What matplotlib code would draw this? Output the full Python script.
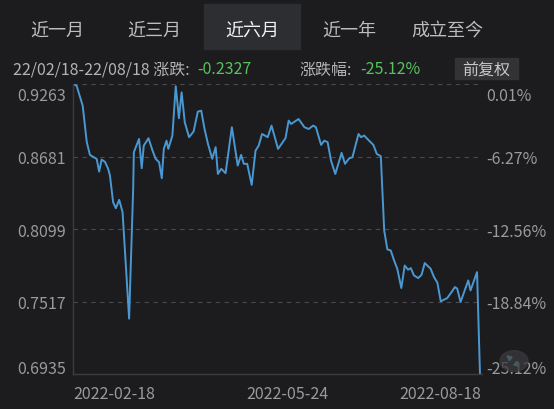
import matplotlib
matplotlib.use("Agg")
import matplotlib.pyplot as plt
import matplotlib.transforms as mtransforms
from matplotlib.patches import Rectangle, Circle

plt.rcParams['font.family'] = ['Noto Sans CJK SC', 'DejaVu Sans']

# period tabs
tabs = ['近一月', '近三月', '近六月', '近一年', '成立至今']
active_tab = 2

# summary row
period_text = '22/02/18-22/08/18 涨跌:'
change_value = '-0.2327'
pct_label = '涨跌幅:'
pct_value = '-25.12%'
adjust_label = '前复权'

# net value series (days since 2022-02-18, value)
days = [0.0, 1.6, 4.3, 6.1, 7.5, 9.7, 10.5, 11.6, 12.7, 14.2, 15.6, 16.4,
        17.1, 17.8, 19.0, 20.5, 22.0, 24.9, 26.7, 27.0, 29.3, 30.5, 31.4,
        33.5, 35.3, 36.7, 38.2, 39.4, 40.3, 41.5, 42.3, 44.1, 45.6, 47.0,
        48.2, 49.6, 51.5, 53.5, 55.4, 56.9, 58.4, 59.9, 61.8, 63.3, 64.3,
        65.8, 67.7, 70.5, 73.1, 74.6, 75.8, 77.3, 79.3, 81.0, 82.4, 83.9,
        86.4, 88.1, 91.0, 94.3, 95.7, 96.8, 100.1, 102.7, 104.6, 106.6,
        107.8, 110.1, 111.5, 113.0, 114.5, 116.4, 119.2, 120.7, 122.6,
        124.0, 126.7, 127.8, 129.2, 131.4, 133.3, 134.8, 136.6, 138.1,
        139.5, 141.0, 142.5, 143.9, 145.7, 147.2, 148.7, 149.9, 151.3,
        153.2, 154.7, 156.1, 157.2, 158.7, 160.2, 161.7, 163.2, 166.1,
        168.0, 169.5, 170.5, 172.0, 175.4, 176.4, 179.3, 180.6]
values = [0.9263, 0.9249, 0.9089, 0.8798, 0.8694, 0.8670, 0.8662, 0.8560,
          0.8656, 0.8638, 0.8582, 0.8528, 0.8421, 0.8315, 0.8266, 0.8333,
          0.8234, 0.7379, 0.8421, 0.8715, 0.8822, 0.8587, 0.8768, 0.8828,
          0.8728, 0.8662, 0.8635, 0.8507, 0.8742, 0.8808, 0.8742, 0.8849,
          0.9245, 0.8988, 0.9196, 0.8956, 0.8836, 0.8881, 0.9041, 0.9049,
          0.8900, 0.8782, 0.8662, 0.8756, 0.8541, 0.8582, 0.8547, 0.8916,
          0.8608, 0.8694, 0.8622, 0.8622, 0.8453, 0.8728, 0.8768, 0.8862,
          0.8836, 0.8929, 0.8742, 0.8828, 0.8969, 0.8942, 0.8982, 0.8916,
          0.8902, 0.8929, 0.8916, 0.8774, 0.8808, 0.8796, 0.8648, 0.8541,
          0.8710, 0.8622, 0.8667, 0.8675, 0.8862, 0.8836, 0.8849, 0.8808,
          0.8774, 0.8702, 0.8683, 0.8087, 0.7935, 0.7927, 0.7846, 0.7780,
          0.7625, 0.7806, 0.7772, 0.7785, 0.7726, 0.7705, 0.7732, 0.7826,
          0.7806, 0.7780, 0.7713, 0.7668, 0.7518, 0.7545, 0.7593, 0.7633,
          0.7620, 0.7513, 0.7686, 0.7606, 0.7753, 0.6936]

y_ticks = [0.9263, 0.8681, 0.8099, 0.7517, 0.6935]
y_tick_labels = ['0.9263', '0.8681', '0.8099', '0.7517', '0.6935']
pct_tick_labels = ['0.01%', '-6.27%', '-12.56%', '-18.84%', '-25.12%']
x_ticks = [0, 95, 181]
x_tick_labels = ['2022-02-18', '2022-05-24', '2022-08-18']

bg = '#1c1c1e'
grey = '#9a9a9e'
green = '#55c25e'
line_c = '#4a98d2'

fig = plt.figure(figsize=(5.54, 4.10), dpi=100, facecolor=bg)

# tabs
tab_w = 96 / 554
for i, t in enumerate(tabs):
    cx = (57 + i * 97.5) / 554
    if i == active_tab:
        fig.patches.append(Rectangle((cx - tab_w / 2, 1 - 50 / 410), tab_w, 45 / 410,
                                     transform=fig.transFigure, color='#2c2e32', zorder=0))
    fig.text(cx, 1 - 31 / 410, t, ha='center', va='center', fontsize=13,
             color='#f2f2f2' if i == active_tab else '#bdbdbd')

# summary row
ty = 1 - 70 / 410
fig.text(13 / 554, ty, period_text, ha='left', va='center', fontsize=11.5, color='#b4b4b4')
fig.text(197 / 554, ty, change_value, ha='left', va='center', fontsize=11.5, color=green)
fig.text(299 / 554, ty, pct_label, ha='left', va='center', fontsize=11.5, color='#b4b4b4')
fig.text(360 / 554, ty, pct_value, ha='left', va='center', fontsize=11.5, color=green)
fig.patches.append(Rectangle((455 / 554, 1 - 80 / 410), 63 / 554, 21 / 410,
                             transform=fig.transFigure, color='#333336', zorder=0))
fig.text(486.5 / 554, ty, adjust_label, ha='center', va='center', fontsize=11.5, color='#c8c8c8')

ax = fig.add_axes([73 / 554, 35 / 410, 409 / 554, 290 / 410])
ax.set_facecolor(bg)
ax.plot(days, values, color=line_c, lw=1.4)
ax.set_xlim(0, 181.5)
ax.set_ylim(0.6935, 0.9263)
ax.set_yticks(y_ticks)
ax.set_yticklabels(y_tick_labels)
ax.set_xticks(x_ticks)
ax.set_xticklabels(x_tick_labels)
for lab, ha in zip(ax.get_xticklabels(), ['left', 'center', 'right']):
    lab.set_ha(ha)
ax.tick_params(axis='both', length=0, colors=grey, labelsize=11.5)
ax.tick_params(axis='x', pad=8)
ax.tick_params(axis='y', pad=5)
for yv in y_ticks[:-1]:
    ax.axhline(yv, color='#4a4a4c', lw=0.8, ls=(0, (4, 4)), zorder=0)
for s in ['top', 'right']:
    ax.spines[s].set_visible(False)
for s in ['left', 'bottom']:
    ax.spines[s].set_color('#3c3c3e')
    ax.spines[s].set_linewidth(1)

ax2 = ax.twinx()
ax2.set_ylim(ax.get_ylim())
ax2.set_yticks(y_ticks)
ax2.set_yticklabels(pct_tick_labels)
ax2.tick_params(axis='y', length=0, colors=grey, labelsize=11.5, pad=3)
for s in ax2.spines.values():
    s.set_visible(False)

# top / bottom labels sit inside the plot band
down = mtransforms.ScaledTranslation(0, -0.09, fig.dpi_scale_trans)
up = mtransforms.ScaledTranslation(0, 0.08, fig.dpi_scale_trans)
for a in (ax, ax2):
    labs = a.get_yticklabels()
    labs[0].set_transform(labs[0].get_transform() + down)
    labs[-1].set_transform(labs[-1].get_transform() + up)

# expand icon (drawn as a shape)
fig.patches.append(Circle((514 / 554, 1 - 362 / 410), 14 / 554, transform=fig.transFigure,
                          color='#3a3a3c', alpha=0.75, zorder=5))
ax.annotate('', xy=(504 / 554, 1 - 354 / 410), xytext=(512 / 554, 1 - 361 / 410),
            xycoords='figure fraction', textcoords='figure fraction',
            arrowprops=dict(arrowstyle='-|>', color='#5ac8d8', lw=1.3,
                            mutation_scale=7), zorder=6, annotation_clip=False)
ax.annotate('', xy=(522 / 554, 1 - 370 / 410), xytext=(514 / 554, 1 - 363 / 410),
            xycoords='figure fraction', textcoords='figure fraction',
            arrowprops=dict(arrowstyle='-|>', color='#5ac8d8', lw=1.3,
                            mutation_scale=7), zorder=6, annotation_clip=False)

fig.savefig('out.png', dpi=100, facecolor=bg)
